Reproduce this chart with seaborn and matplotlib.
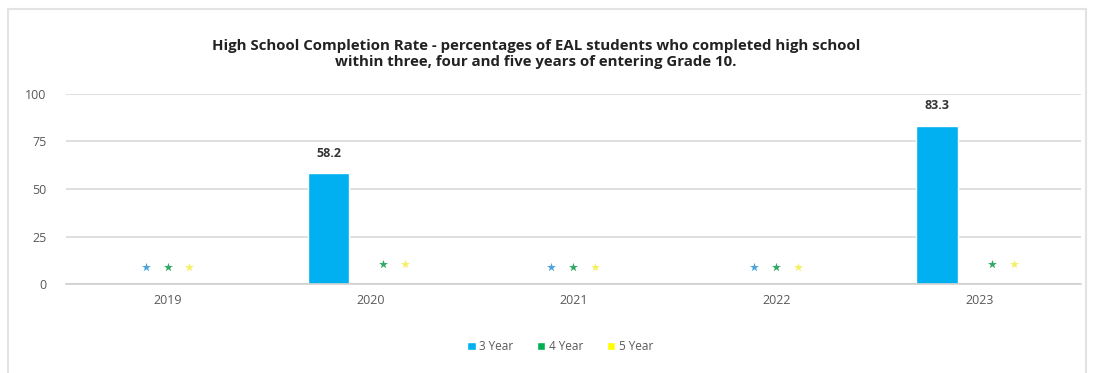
import numpy as np
import pandas as pd
import seaborn as sns
import matplotlib.pyplot as plt
from matplotlib.patches import Rectangle

years = ["2019", "2020", "2021", "2022", "2023"]
series = ["3 Year", "4 Year", "5 Year"]
rate_3yr = [np.nan, 58.2, np.nan, np.nan, 83.3]
rate_4yr = [np.nan, np.nan, np.nan, np.nan, np.nan]
rate_5yr = [np.nan, np.nan, np.nan, np.nan, np.nan]
colors = ["#00B0F0", "#00B050", "#FFFF00"]
star_colors = ["#4BA3D9", "#2FA866", "#F4F060"]
title = ("High School Completion Rate - percentages of EAL students who completed high school\n"
         "within three, four and five years of entering Grade 10.")

df = pd.DataFrame({
    "Year": years * 3,
    "Series": [s for s in series for _ in years],
    "Rate": rate_3yr + rate_4yr + rate_5yr,
})

sns.set_theme(style="white")
plt.rcParams["font.family"] = ["Open Sans", "DejaVu Sans"]

fig = plt.figure(figsize=(10.95, 3.73), dpi=100)
ax = fig.add_axes([0.0603, 0.2386, 0.9267, 0.5094])

width = 0.62
sns.barplot(data=df, x="Year", y="Rate", hue="Series", hue_order=series,
            palette=colors, width=width, dodge=True, ax=ax, saturation=1,
            legend=True)

ax.set_ylim(0, 100)
ax.set_xlim(-0.5, len(years) - 0.5)
ax.set_yticks([0, 25, 50, 75, 100])
ax.grid(axis="y", color="#D9D9D9", linewidth=1.2)
ax.set_axisbelow(True)
for s in ["left", "right", "top"]:
    ax.spines[s].set_visible(False)
ax.spines["bottom"].set_color("#D0D0D0")
ax.spines["bottom"].set_linewidth(1.2)
ax.tick_params(axis="both", length=0, labelsize=9, labelcolor="#595959")
ax.tick_params(axis="y", pad=14)
ax.tick_params(axis="x", pad=7)
ax.set_xlabel("")
ax.set_ylabel("")

# data labels for present values
vals = [rate_3yr, rate_4yr, rate_5yr]
step = width / 3
for si, arr in enumerate(vals):
    for xi, v in enumerate(arr):
        if not np.isnan(v):
            xpos = xi + (si - 1) * step
            ax.annotate(f"{v:.1f}", (xpos, v), xytext=(0, 10), textcoords="offset points",
                        ha="center", va="bottom", fontsize=9, fontweight="bold", color="#333333")

# star markers for suppressed values
for xi in range(len(years)):
    missing = [si for si in range(3) if np.isnan(vals[si][xi])]
    if len(missing) == 3:
        offs = [-0.108, 0.0, 0.108]
        yv = 9.0
    else:
        offs = [0.064, 0.172]
        yv = 10.5
    for k, si in enumerate(missing):
        ax.scatter(xi + offs[k], yv, marker="*", s=45, color=star_colors[si],
                   zorder=5, clip_on=False, linewidths=0)

leg = ax.legend(loc="upper center", bbox_to_anchor=(0.487, -0.24), ncol=3, frameon=False,
                fontsize=8.5, handlelength=0.7, handleheight=0.7, handletextpad=0.3,
                columnspacing=2.0, labelcolor="#595959")

fig.text(0.4895, 0.856, title, ha="center", va="center", fontsize=10.8,
         fontweight="bold", color="#222222", linespacing=1.15)

fig.patches.append(Rectangle((0.007, -0.01), 0.985, 0.985, transform=fig.transFigure,
                             fill=False, edgecolor="#E3E3E3", linewidth=1.5))

fig.savefig("out.png", dpi=100)
